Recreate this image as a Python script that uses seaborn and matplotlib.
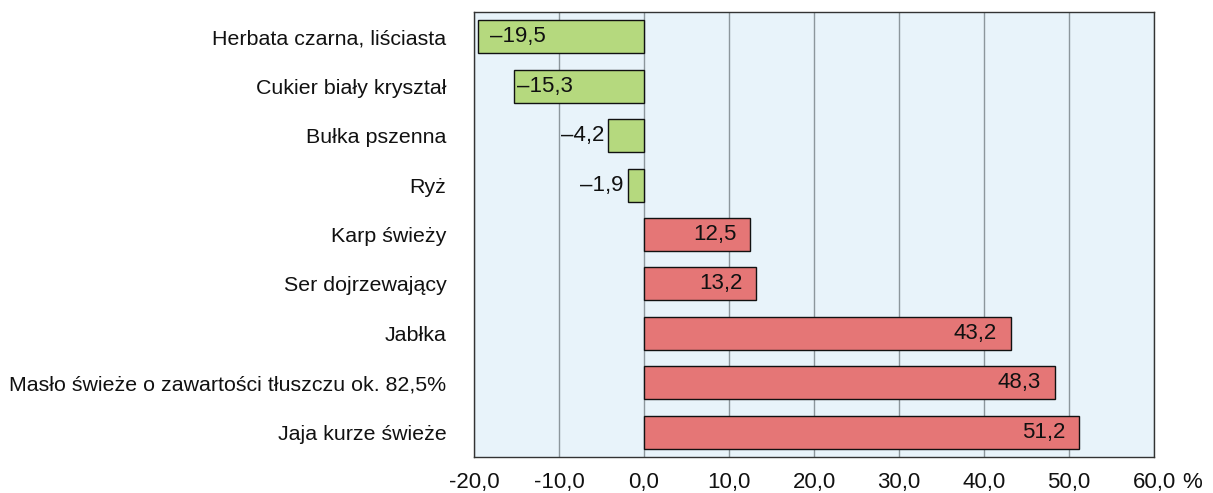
import pandas as pd
import numpy as np
import matplotlib
matplotlib.use("Agg")
import matplotlib.pyplot as plt
import seaborn as sns

categories = ["Herbata czarna, liściasta", "Cukier biały kryształ", "Bułka pszenna", "Ryż",
              "Karp świeży", "Ser dojrzewający", "Jabłka",
              "Masło świeże o zawartości tłuszczu ok. 82,5%", "Jaja kurze świeże"]
values = [-19.5, -15.3, -4.2, -1.9, 12.5, 13.2, 43.2, 48.3, 51.2]
x_ticks = [-20, -10, 0, 10, 20, 30, 40, 50, 60]

df = pd.DataFrame({"produkt": categories, "zmiana": values})
df["znak"] = np.where(df["zmiana"] < 0, "spadek", "wzrost")

sns.set_style("white")
plt.rcParams["font.family"] = ["Liberation Sans", "DejaVu Sans"]
FS = 15.4
FS_VAL = 16

fig = plt.figure(figsize=(12.13, 4.93), dpi=100)
ax = fig.add_axes([0.3908, 0.073, 0.5606, 0.9027])
ax.set_facecolor("#e8f3fa")

sns.barplot(data=df, x="zmiana", y="produkt", hue="znak", orient="h",
            palette={"spadek": "#b5d97e", "wzrost": "#e57676"}, saturation=1,
            dodge=False, legend=False, width=0.667,
            edgecolor="#111111", linewidth=1, ax=ax, zorder=3)

ax.set_xlim(-20, 60)
ax.set_ylim(len(categories) - 0.5, -0.5)
ax.set_xticks(x_ticks)
ax.set_xticklabels([f"{t:.1f}".replace(".", ",") for t in x_ticks])
ax.grid(axis="x", color="#8c969c", linewidth=1, zorder=0)
ax.set_axisbelow(True)
ax.tick_params(axis="y", length=0, pad=20, labelsize=FS, labelcolor="#111111")
ax.tick_params(axis="x", length=0, pad=11, labelsize=FS_VAL, labelcolor="#111111")
ax.set_xlabel("")
ax.set_ylabel("")
for s in ax.spines.values():
    s.set_color("#333333")
    s.set_linewidth(1)

# value labels
pads = [12, 3, -4, -5, -14, -14, -14, -14, -14]
for i, v in enumerate(values):
    txt = f"{abs(v):.1f}".replace(".", ",")
    if v < 0:
        txt = "\u2013" + txt
    p = pads[i]
    if v < 0:
        ha = "left" if p > 0 else "right"
    else:
        ha = "right"
    ax.annotate(txt, (v, i), xytext=(p * 0.72, 0), textcoords="offset points",
                ha=ha, va="center", fontsize=FS_VAL, color="#111111", zorder=5)

fig.text(1192 / 1213, ax.get_position().y0, "%", fontsize=FS_VAL,
         ha="center", va="top", color="#111111")
# align % with tick labels
fig.canvas.draw()
bb = ax.get_xticklabels()[-1].get_window_extent()
fig.texts[-1].set_position((1192 / 1213, bb.y1 / fig.bbox.height))

fig.savefig("out.png", dpi=100)
